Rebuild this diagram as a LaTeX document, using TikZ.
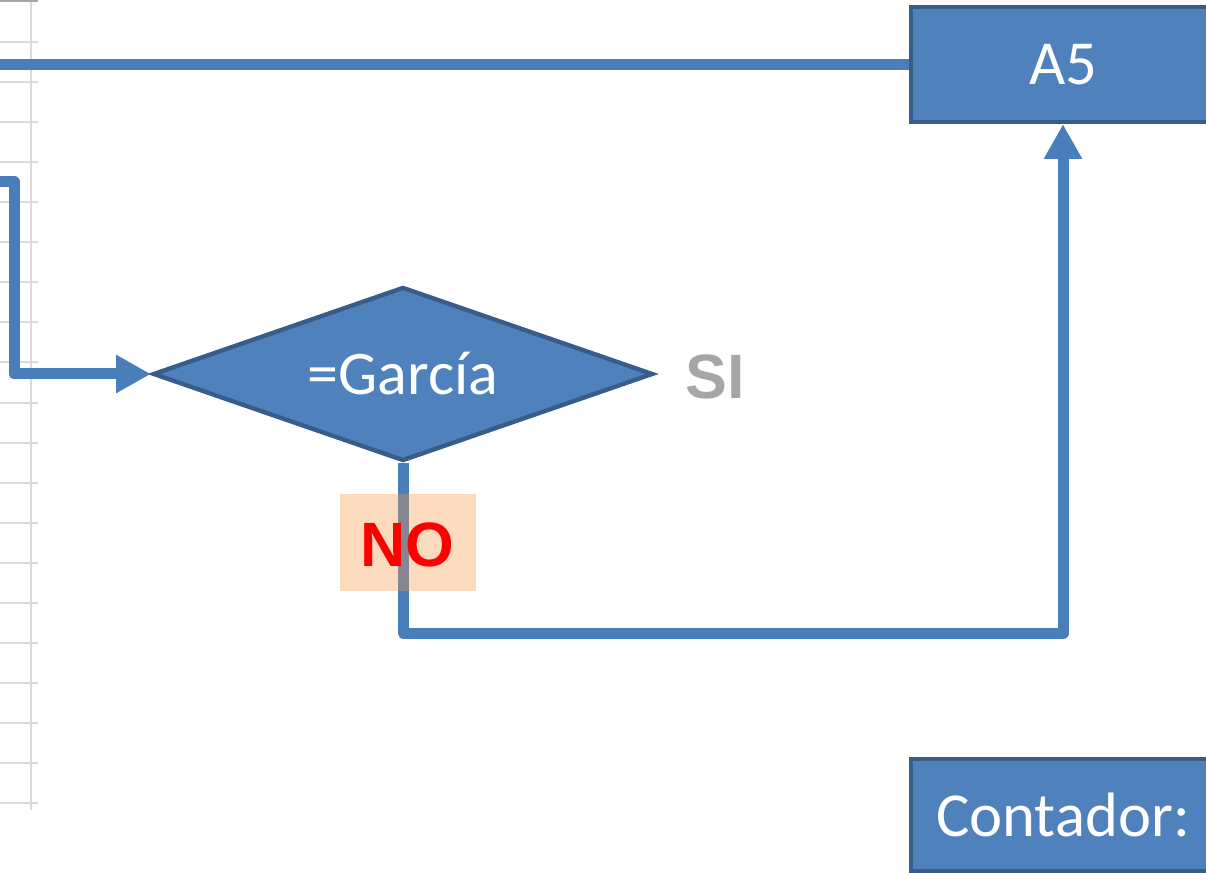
\documentclass[tikz,border=0pt]{standalone}
\usepackage{fontspec}
\setmainfont{Carlito}
\newfontfamily\arialbold{Liberation Sans}[BoldFont={Liberation Sans Bold}]
\usetikzlibrary{arrows.meta,shapes.geometric}
\definecolor{boxfill}{HTML}{4F81BD}
\definecolor{boxdraw}{HTML}{385D8A}
\definecolor{linecol}{HTML}{4A7EBB}
\definecolor{gridcol}{HTML}{DADADA}
\definecolor{gridtop}{HTML}{A6A6A6}
\definecolor{sigray}{HTML}{A6A6A6}
\definecolor{noorange}{HTML}{F79646}
\tikzset{
  conn/.style={draw=linecol, line width=8.25pt, line join=round},
  arrowed/.style={conn, -{Triangle[width=27pt,length=26pt]}},
  blockbox/.style={rectangle, fill=boxfill, draw=boxdraw, line width=3.3pt,
    text=white, font=\fontsize{47}{50}\selectfont, inner sep=0pt},
  decision/.style={diamond, aspect=2.87, fill=boxfill, draw=boxdraw, line width=3.3pt,
    text=white, font=\fontsize{46.5}{50}\selectfont, inner sep=0pt,
    minimum width=375pt, minimum height=130.5pt},
  bigbold/.style={font=\arialbold\bfseries\fontsize{47}{50}\selectfont, inner sep=0pt},
  gridline/.style={draw=gridcol, line width=1.5pt}
}
\begin{document}
\begin{tikzpicture}[x=0.75pt,y=-0.75pt]
\useasboundingbox (0,0) rectangle (1206,873);
% spreadsheet grid at left
\draw[gridline] (31,0) -- (31,810);
\foreach \k in {1,...,20} {
  \draw[gridline] (0,{2+40.05*\k}) -- (38,{2+40.05*\k});
}
\draw[draw=gridtop, line width=1.5pt] (0,1) -- (38,1);

% nodes
\node[blockbox, minimum width=228pt, minimum height=86.25pt] (a5) at (1063,64.5) {A5};
\node[blockbox, minimum width=228pt, minimum height=84pt] (cont) at (1063,815) {Contador:};
\node[decision] (d) at (403,374) {=García};
\node[bigbold, text=sigray] (si) at (715,377) {SI};

% connectors
\coordinate (outL) at (0,64.5);
\draw[conn] (a5.west) -- (a5.west -| outL);
\coordinate (inL) at (0,182);
\coordinate (lc) at (14,182);
\draw[arrowed] (inL) -- (lc) |- (d.west);
\coordinate (turn) at (403,633);
\draw[arrowed] (d.south) -- (turn) -| (a5.south);

% NO label box
\node[fill=noorange, fill opacity=0.35, minimum width=102pt, minimum height=72.75pt, inner sep=0pt] (nobox) at (408,542.5) {};
\node[bigbold, text=red] (no) at (407,545) {NO};
\end{tikzpicture}
\end{document}
